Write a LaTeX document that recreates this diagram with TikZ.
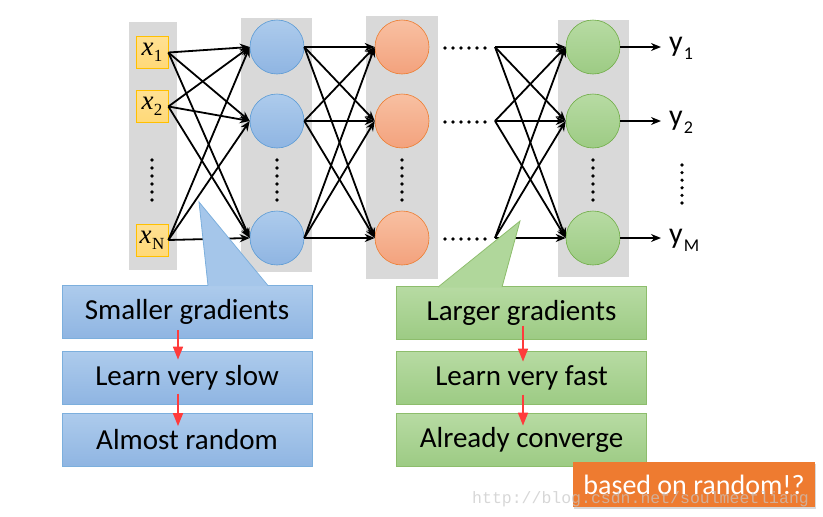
\documentclass[tikz,border=0pt]{standalone}
\usepackage{fontspec}
\setmainfont{Carlito}
\newfontfamily\markfont{Liberation Mono}
\newfontfamily\inputfont{Liberation Serif}
\usetikzlibrary{arrows.meta,shadows}

\definecolor{colgray}{HTML}{D9D9D9}
\definecolor{inline}{HTML}{FFC000}
\definecolor{infill}{HTML}{FFD978}
\definecolor{blueline}{HTML}{5B9BD5}
\definecolor{bluetop}{HTML}{ADCBEC}
\definecolor{bluebot}{HTML}{8FB5E2}
\definecolor{orline}{HTML}{ED7D31}
\definecolor{ortop}{HTML}{F8C0A2}
\definecolor{orbot}{HTML}{F3A27D}
\definecolor{grline}{HTML}{70AD47}
\definecolor{grtop}{HTML}{B7DBA3}
\definecolor{grbot}{HTML}{9DCB84}
\definecolor{redarrow}{HTML}{FF3B3B}
\definecolor{tagfill}{HTML}{EE7B30}

\newcommand{\ysub}[1]{y\kern1pt\raisebox{-8pt}{\fontsize{18}{18}\selectfont #1}}
\newcommand{\xsub}[1]{{\itshape x}\kern0.5pt\raisebox{-6pt}{\fontsize{17}{17}\selectfont #1}}

\begin{document}
\begin{tikzpicture}[x=1pt, y=-1pt,
  neuron/.style={circle, minimum size=54pt, inner sep=0pt, line width=0.6pt},
  link/.style={line width=1.8pt, -{Stealth[length=10pt,width=8pt]}},
  note/.style={minimum width=250pt, minimum height=53pt, inner sep=0pt,
    line width=0.8pt, font=\fontsize{29}{29}\selectfont},
  bluenote/.style={note, draw=blueline!80, top color=bluetop, bottom color=bluebot},
  greennote/.style={note, draw=grline!80, top color=grtop, bottom color=grbot},
  down/.style={redarrow, line width=1.6pt, -{Triangle[length=13pt,width=10pt]}},
  dot/.style={fill=black}]
  \useasboundingbox (0,0) rectangle (823,517);

  % gray columns
  \fill[colgray] (129, 22) rectangle (177, 270);
  \fill[colgray] (241, 18) rectangle (312, 272);
  \fill[colgray] (366, 16) rectangle (438, 279);
  \fill[colgray] (558, 20) rectangle (629, 277);

  % inputs
  \foreach \i/\y/\t in {1/52.5/1, 2/106.5/2, 3/240/N}
    \node[draw=inline, line width=0.8pt, top color=infill!80, bottom color=infill,
      minimum width=32pt, minimum height=32pt, inner sep=0pt,
      font=\inputfont\fontsize{27}{27}\selectfont] (in\i) at (152, \y) {\xsub{\t}};

  % layers
  \foreach \j/\y in {1/47, 2/121, 3/238} {
    \node[neuron, draw=blueline, top color=bluetop, bottom color=bluebot] (bl\j) at (277, \y) {};
    \node[neuron, draw=orline, top color=ortop, bottom color=orbot] (or\j) at (402, \y) {};
    \node[neuron, draw=grline, top color=grtop, bottom color=grbot] (gr\j) at (593, \y) {};
    \coordinate (dd\j) at (495, \y);
    \coordinate (yt\j) at (661, \y);
    \foreach \k in {0, ..., 5}
      \fill[dot] (445 + 8*\k, \y + 1) circle (1.8);
  }

  % vertical dots
  \foreach \x in {152, 277, 402, 593}
    \foreach \k in {0, ..., 5}
      \fill[dot] (\x, 160 + 8*\k) circle (1.8);
  \foreach \k in {0, ..., 5}
    \fill[dot] (682, 165 + 7.6*\k) circle (1.8);

  % connections
  \foreach \i in {1, 2, 3}
    \foreach \j in {1, 2, 3} {
      \draw[link] (in\i.east) -- (bl\j.west);
      \draw[link] (bl\i.east) -- (or\j.west);
      \draw[link] (dd\i) -- (gr\j.west);
    }

  % outputs
  \foreach \j in {1, 2, 3}
    \draw[link] (gr\j.east) -- (yt\j);
  \foreach \j/\y/\t in {1/51/1, 2/125/2, 3/243/M}
    \node[anchor=base west, inner sep=0pt, font=\fontsize{30}{30}\selectfont] (out\j) at (669, \y) {\ysub{\t}};

  % callouts
  \node[bluenote] (small) at (187, 312) {Smaller gradients};
  \node[bluenote] (slow) at (187, 377.5) {Learn very slow};
  \node[bluenote] (rand) at (187, 440) {Almost random};
  \fill[bluetop!75!bluebot] (208, 286) -- (199, 202) -- (268, 286) -- cycle;
  \draw[blueline!80, line width=0.8pt] (208, 285.6) -- (199, 202) -- (268, 285.6);

  \node[greennote] (large) at (521.5, 312.5) {Larger gradients};
  \node[greennote] (fast) at (521.5, 377.5) {Learn very fast};
  \node[greennote] (conv) at (521.5, 439.5) {Already converge};
  \fill[grtop!75!grbot] (438, 287.5) -- (520, 221) -- (502, 287.5) -- cycle;
  \draw[grline!80, line width=0.8pt] (438, 287.1) -- (520, 221) -- (502, 287.1);

  \draw[down] ([xshift=-9pt, yshift=-18pt]small.center) -- ([xshift=-9pt, yshift=-9pt]slow.north);
  \draw[down] ([xshift=-9pt, yshift=-16pt]slow.center) -- ([xshift=-9pt, yshift=-13pt]rand.north);
  \draw[down] ([xshift=1.5pt, yshift=-13pt]large.center) -- ([xshift=1.5pt, yshift=-11pt]fast.north);
  \draw[down] ([xshift=1.5pt, yshift=-17pt]fast.center) -- ([xshift=1.5pt, yshift=-13pt]conv.north);

  \node[fill=tagfill, drop shadow={opacity=0.3, shadow xshift=1pt, shadow yshift=-1.5pt},
    minimum width=242pt, minimum height=45pt, inner sep=0pt, text=white,
    font=\fontsize{28}{28}\selectfont] (tag) at (694, 484.5) {based on random!?};
  \node[anchor=base west, inner sep=0pt, text=gray!45, opacity=0.7,
    font=\markfont\fontsize{16.5}{16.5}\selectfont] (mark) at (472, 503) {http://blog.csdn.net/soulmeetliang};
\end{tikzpicture}
\end{document}
